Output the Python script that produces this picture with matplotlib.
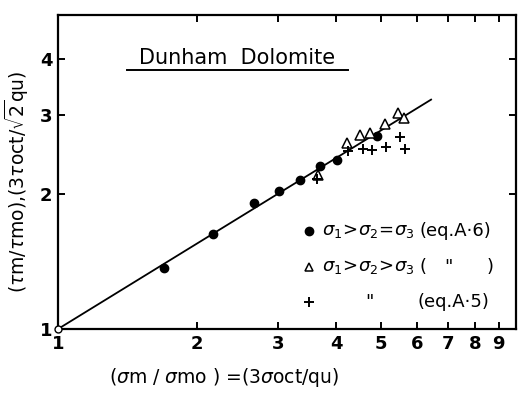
##############################################################################
# Dunham Dolomite: normalised octahedral shear vs. normalised mean stress
##############################################################################
import numpy as np
import matplotlib
matplotlib.use('Agg')
import matplotlib.pyplot as plt
from matplotlib.ticker import FixedLocator, NullLocator, FixedFormatter

plt.rcParams['font.family'] = 'DejaVu Sans'
plt.rcParams['mathtext.fontset'] = 'dejavusans'

###############################################################################
# Data
###############################################################################
circ_x = [1.70, 2.17, 2.66, 3.01, 3.34, 3.69, 4.02, 4.91]
circ_y = [1.37, 1.63, 1.91, 2.03, 2.15, 2.30, 2.38, 2.69]
tri_x = [3.66, 4.22, 4.51, 4.74, 5.10, 5.45, 5.62]
tri_y = [2.20, 2.59, 2.70, 2.73, 2.86, 3.02, 2.95]
plus_x = [3.64, 4.25, 4.57, 4.79, 5.13, 5.50, 5.64]
plus_y = [2.16, 2.49, 2.52, 2.50, 2.54, 2.68, 2.52]
fit_x = [1.0, 6.42]
fit_y = [1.0, 3.24]
origin = (1.0, 1.0)
x_ticks = [1, 2, 3, 4, 5, 6, 7, 8, 9]
y_ticks = [1, 2, 3, 4]

###############################################################################
# Figure
###############################################################################
fig = plt.figure(figsize=(5.18, 3.94), dpi=100, facecolor='w')
ax = fig.add_axes([0.112, 0.165, 0.884, 0.797])
ax.set_xscale('log')
ax.set_yscale('log')
ax.set_xlim(1, 9.8)
ax.set_ylim(1, 5.0)

ax.plot(fit_x, fit_y, color='k', lw=1.3, zorder=2)
ax.plot(circ_x, circ_y, 'o', ms=6, color='k', zorder=3)
ax.plot(tri_x, tri_y, '^', ms=7, mfc='w', mec='k', mew=1.1, zorder=3)
ax.plot(plus_x, plus_y, '+', ms=7, mec='k', mew=1.4, zorder=3)
ax.plot(*origin, 'o', ms=5, mfc='w', mec='k', mew=1.0, clip_on=False,
        zorder=4)

# axes styling
for s in ax.spines.values():
    s.set_linewidth(1.6)
ax.xaxis.set_major_locator(FixedLocator(x_ticks))
ax.xaxis.set_major_formatter(FixedFormatter([str(t) for t in x_ticks]))
ax.xaxis.set_minor_locator(NullLocator())
ax.yaxis.set_major_locator(FixedLocator(y_ticks))
ax.yaxis.set_major_formatter(FixedFormatter([str(t) for t in y_ticks]))
ax.yaxis.set_minor_locator(NullLocator())
ax.tick_params(which='both', direction='in', top=True, right=True,
               length=5, width=1.4, labelsize=13, pad=4)
for lbl in ax.get_xticklabels() + ax.get_yticklabels():
    lbl.set_fontweight('bold')

ax.set_xlabel(r'($\sigma$m / $\sigma$mo ) =(3$\sigma$oct/qu)', fontsize=13.5)
ax.xaxis.set_label_coords(0.362, -0.118)
ax.set_ylabel(r'($\tau$m/$\tau$mo),(3$\tau$oct/$\sqrt{2}$qu)', fontsize=13.5)
ax.yaxis.set_label_coords(-0.058, 0.47)

# title with underline
ax.text(0.39, 0.863, 'Dunham  Dolomite', transform=ax.transAxes,
        ha='center', va='center', fontsize=15)
ax.plot([0.151, 0.633], [0.825, 0.825], color='k', lw=1.4,
        transform=ax.transAxes, clip_on=False)

# legend drawn by hand
lx, tx = 0.548, 0.576
rows = [0.312, 0.197, 0.086]
ax.plot(lx, rows[0], 'o', ms=6, color='k', transform=ax.transAxes)
ax.plot(lx, rows[1], '^', ms=6, mfc='w', mec='k', mew=1.1,
        transform=ax.transAxes)
ax.plot(lx, rows[2], '+', ms=7, mec='k', mew=1.4, transform=ax.transAxes)
fs = 13
ax.text(tx, rows[0], r'$\sigma_1\!>\!\sigma_2\!=\!\sigma_3$',
        transform=ax.transAxes, va='center', fontsize=fs)
ax.text(0.790, rows[0], '(eq.A·6)', transform=ax.transAxes, va='center',
        fontsize=fs)
ax.text(tx, rows[1], r'$\sigma_1\!>\!\sigma_2\!>\!\sigma_3$',
        transform=ax.transAxes, va='center', fontsize=fs)
ax.text(0.790, rows[1], '(', transform=ax.transAxes, va='center',
        fontsize=fs)
ax.text(0.843, rows[1], '"', transform=ax.transAxes, va='center',
        fontsize=fs)
ax.text(0.935, rows[1], ')', transform=ax.transAxes, va='center',
        fontsize=fs)
ax.text(0.672, rows[2], '"', transform=ax.transAxes, va='center',
        fontsize=fs)
ax.text(0.786, rows[2], '(eq.A·5)', transform=ax.transAxes, va='center',
        fontsize=fs)

fig.savefig('out.png', dpi=100, facecolor='w')
plt.close('all')
